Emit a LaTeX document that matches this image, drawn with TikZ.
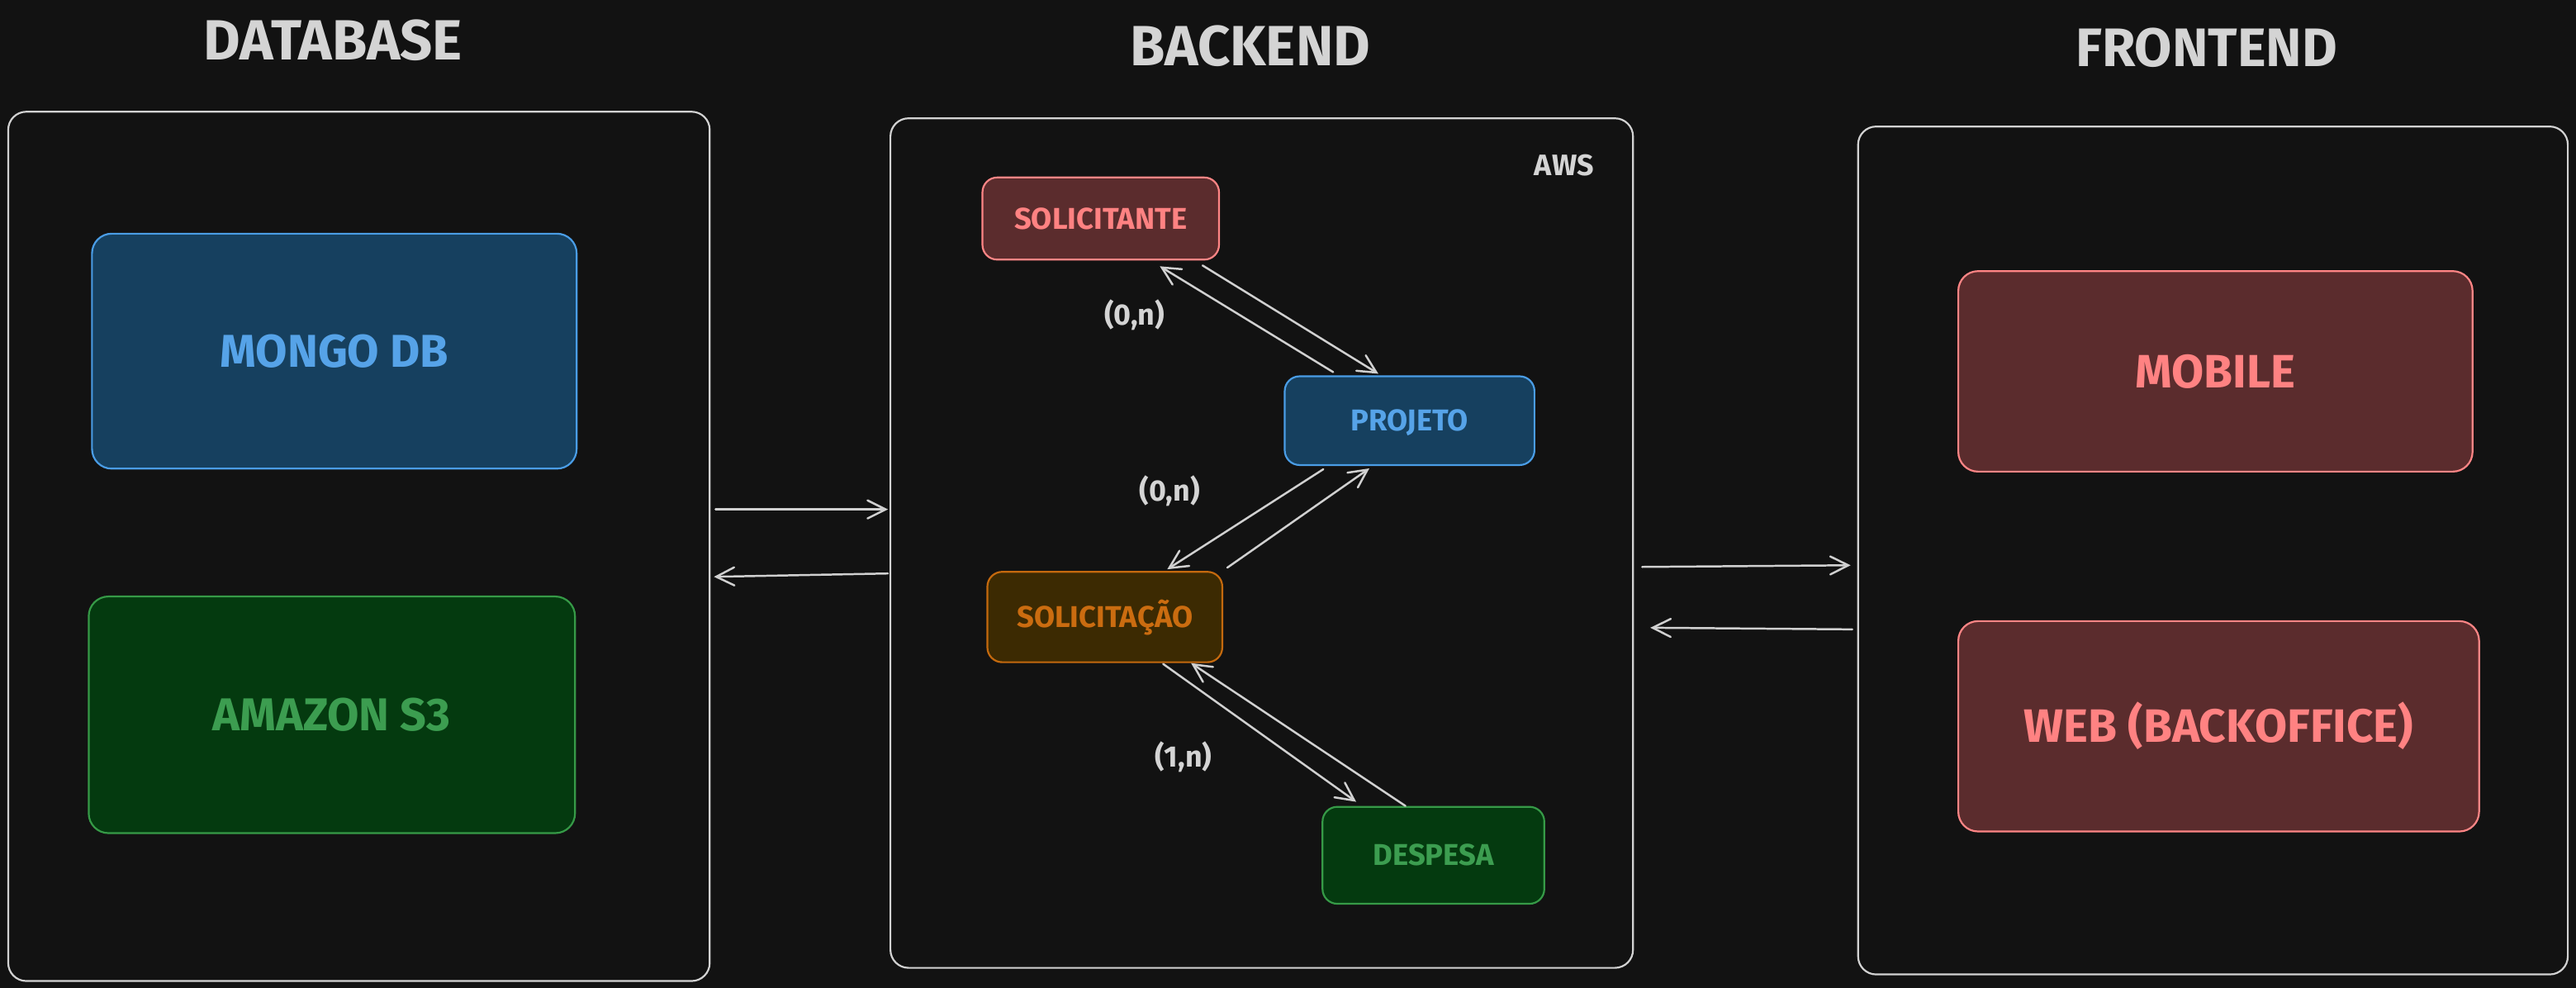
\documentclass[tikz,border=0pt]{standalone}
\usepackage{fontspec}
\setmainfont{Fira Sans}
\usetikzlibrary{arrows.meta}
\definecolor{bg}{HTML}{121212}
\definecolor{frame}{HTML}{D2D2D2}
\definecolor{titlec}{HTML}{D4D4D4}
\definecolor{arrowc}{HTML}{D0D0D0}
\definecolor{bluefill}{HTML}{16405F}
\definecolor{bluedraw}{HTML}{4A9DE6}
\definecolor{bluetext}{HTML}{56A3E8}
\definecolor{redfill}{HTML}{5B2C2D}
\definecolor{reddraw}{HTML}{FF8585}
\definecolor{redtext}{HTML}{FF8282}
\definecolor{greenfill}{HTML}{043A0F}
\definecolor{greendraw}{HTML}{369A47}
\definecolor{greentext}{HTML}{3C9D50}
\definecolor{orangefill}{HTML}{3C2A02}
\definecolor{orangedraw}{HTML}{C4690E}
\definecolor{orangetext}{HTML}{CA6C10}
\tikzset{
  txt/.style={inner sep=0pt, text depth=0pt, text height=#1},
  title/.style={txt=23.8pt, text=titlec, font=\fontsize{34.5}{34.5}\selectfont\bfseries},
  wtitle/.style={txt=22.7pt, text=titlec, font=\fontsize{33}{33}\selectfont\bfseries},
  outerbox/.style={draw=frame, line width=1.1pt, rounded corners=11pt, inner sep=0pt},
  bigbox/.style={txt=19.3pt, line width=1.1pt, rounded corners=12pt, font=\fontsize{28}{28}\selectfont\bfseries},
  widebox/.style={txt=19.6pt, line width=1.1pt, rounded corners=12pt, font=\fontsize{28.5}{28.5}\selectfont\bfseries},
  smallbox/.style={txt=12.6pt, line width=1.1pt, rounded corners=9pt, font=\fontsize{18.3}{18.3}\selectfont\bfseries},
  bluebox/.style={fill=bluefill, draw=bluedraw, text=bluetext},
  redbox/.style={fill=redfill, draw=reddraw, text=redtext},
  greenbox/.style={fill=greenfill, draw=greendraw, text=greentext},
  orangebox/.style={fill=orangefill, draw=orangedraw, text=orangetext},
  card/.style={txt=12.4pt, text=titlec, font=\fontsize{18}{18}\selectfont\bfseries},
  conn/.style={draw=arrowc, line width=1.25pt, line cap=round,
    -{Straight Barb[length=11pt,width=11pt,line cap=round]}}
}
\begin{document}
\begin{tikzpicture}[x=1pt,y=-1pt]
\useasboundingbox[fill=bg] (0,0) rectangle (1568,601.25);

% titles
\node[title] (tdb) at (202.8,24.3) {DATABASE};
\node[title] (tbe) at (761,28) {BACKEND};
\node[wtitle] (tfe) at (1343,29) {FRONTEND};

% outer boxes
\node[outerbox, minimum width=427pt, minimum height=529pt] (db) at (218.5,332.5) {};
\node[outerbox, minimum width=452pt, minimum height=517pt] (be) at (768,330.5) {};
\node[outerbox, minimum width=432pt, minimum height=516pt] (fe) at (1347,335) {};

% database
\node[bigbox, bluebox, minimum width=295pt, minimum height=143pt] (mongo) at (203.5,213.7) {MONGO DB};
\node[bigbox, greenbox, minimum width=296pt, minimum height=144pt] (s3) at (202,435) {AMAZON S3};

% frontend
\node[widebox, redbox, minimum width=313pt, minimum height=122pt] (mobile) at (1348.5,226) {MOBILE};
\node[widebox, redbox, minimum width=317pt, minimum height=128pt] (web) at (1350.5,442) {WEB (BACKOFFICE)};

% backend
\node[txt=12.4pt, text=titlec, font=\fontsize{18}{18}\selectfont\bfseries] (aws) at (952,100.5) {AWS};
\node[smallbox, redbox, minimum width=144pt, minimum height=50pt] (soli) at (670,133) {SOLICITANTE};
\node[smallbox, bluebox, minimum width=152pt, minimum height=54pt] (proj) at (858,256) {PROJETO};
\node[smallbox, orangebox, minimum width=143pt, minimum height=55pt] (solic) at (672.5,375.5) {SOLICITAÇÃO};
\node[smallbox, greenbox, minimum width=135pt, minimum height=59pt] (desp) at (872.5,520.5) {DESPESA};

% cardinalities
\node[card] (c1) at (690.5,191.5) {(0,n)};
\node[card] (c2) at (712,298.5) {(0,n)};
\node[card] (c3) at (720.5,460.5) {(1,n)};

% backend connectors
\draw[conn] ([shift={(62,3)}]soli.south) -- ([shift={(-19,-1)}]proj.north);
\draw[conn] ([shift={(-46.5,-2)}]proj.north) -- ([shift={(36,3.5)}]soli.south);
\draw[conn] ([shift={(-52.5,2)}]proj.south) -- ([shift={(38,-1)}]solic.north);
\draw[conn] ([shift={(2.5,-2)}]solic.north east) -- ([shift={(-24.5,1.5)}]proj.south);
\draw[conn] ([shift={(35.5,0.5)}]solic.south) -- ([shift={(-47,-2.5)}]desp.north);
\draw[conn] ([shift={(-17,0)}]desp.north) -- ([shift={(52.5,0)}]solic.south);

% tier connectors
\draw[conn] ([shift={(3,-22.5)}]db.east) -- ([shift={(-1,-20.5)}]be.west);
\draw[conn] ([shift={(-1,18.5)}]be.west) -- ([shift={(2,18.5)}]db.east);
\draw[conn] ([shift={(5,14.5)}]be.east) -- ([shift={(-4,9)}]fe.west);
\draw[conn] ([shift={(-3,48)}]fe.west) -- ([shift={(10,51.5)}]be.east);
\end{tikzpicture}
\end{document}
